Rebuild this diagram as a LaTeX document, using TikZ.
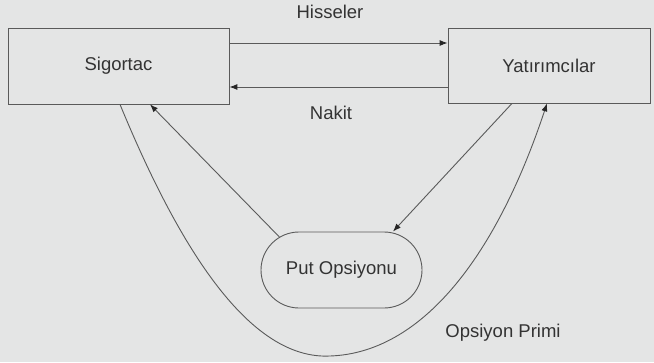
\documentclass[tikz,border=0pt]{standalone}
\usepackage{fontspec}
\setmainfont{Liberation Sans}
\usetikzlibrary{arrows.meta,shapes.misc}
\definecolor{bgc}{HTML}{E4E5E5}
\definecolor{linec}{HTML}{5A5A5A}
\definecolor{txtc}{HTML}{333333}
\begin{document}
\begin{tikzpicture}[x=1pt,y=-1pt,
  every node/.style={font=\fontsize{18.5}{20}\selectfont, text=txtc},
  boxnode/.style={draw=linec, line width=0.8pt, rectangle, inner sep=0pt},
  pillnode/.style={draw=linec, line width=0.9pt, rounded rectangle, minimum width=161pt, minimum height=76pt, inner sep=0pt},
  arr/.style={draw=linec, line width=0.9pt, -{Latex[length=8pt,width=6pt,color=black!85]}},
  lbl/.style={inner sep=0pt}]
\fill[bgc] (0,0) rectangle (654,362);
\useasboundingbox (0,0) rectangle (654,362);
\node[boxnode, minimum width=221pt, minimum height=76pt] (L) at (118.5,66) {Sigortac};
\node[boxnode, minimum width=202pt, minimum height=75pt] (R) at (549,65.5) {Yatırımcılar};
\node[pillnode] (P) at (341.5,270) {Put Opsiyonu};
\node[lbl] (h) at (330,12) {Hisseler};
\node[lbl] (n) at (331,113) {Nakit};
\node[lbl] (o) at (503,333) {Opsiyon Primi};
\draw[arr] ([yshift=23pt]L.east) -- ([yshift=23pt]L.east -| R.west);
\draw[arr] ([yshift=-21pt]L.east -| R.west) -- ([yshift=-21pt]L.east);
\draw[arr] (P.152) -- ([xshift=31.5pt]L.south);
\draw[arr] ([xshift=-37pt]R.south) -- ([xshift=51.5pt]P.north);
\coordinate (bot) at (330,356);
\draw[arr] ([xshift=1.5pt]L.south) .. controls (180,250) and (250,360) .. (bot)
  .. controls (420,353) and (495,260) .. ([xshift=-2pt]R.south);
\end{tikzpicture}
\end{document}
